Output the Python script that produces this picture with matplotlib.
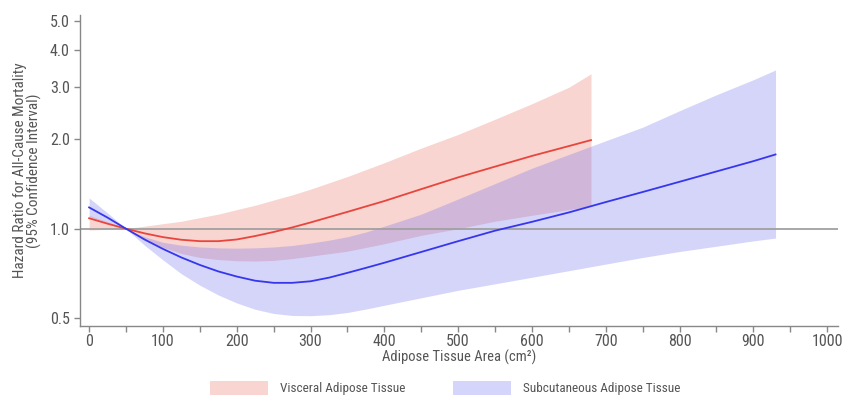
import matplotlib.pyplot as plt
from matplotlib.patches import Patch
from matplotlib.ticker import FixedLocator, NullLocator, MultipleLocator

plt.rcParams['font.family'] = ['Roboto Condensed', 'Liberation Sans Narrow',
                               'Liberation Sans', 'DejaVu Sans']

# adipose tissue area (cm2) and hazard ratios
visceral_x = [0, 25, 50, 75, 100, 125, 150, 175, 200, 225, 250, 275, 300,
              350, 400, 450, 500, 550, 600, 650, 680]
visceral_hr = [1.085, 1.04, 1.0, 0.965, 0.937, 0.918, 0.908, 0.908, 0.92,
               0.945, 0.975, 1.01, 1.05, 1.14, 1.24, 1.36, 1.49, 1.62, 1.76,
               1.9, 1.99]
visceral_hi = [1.11, 1.055, 1.0, 1.02, 1.04, 1.06, 1.09, 1.12, 1.16, 1.2,
               1.25, 1.3, 1.36, 1.5, 1.67, 1.87, 2.08, 2.34, 2.64, 3.0, 3.33]
visceral_lo = [0.99, 0.995, 1.0, 0.92, 0.865, 0.825, 0.8, 0.787, 0.78, 0.778,
               0.782, 0.793, 0.808, 0.84, 0.89, 0.95, 1.0, 1.06, 1.11, 1.16,
               1.19]

subcut_x = [0, 25, 50, 75, 100, 125, 150, 175, 200, 225, 250, 275, 300, 325,
            350, 375, 400, 450, 500, 550, 600, 650, 700, 750, 800, 850, 900,
            930]
subcut_hr = [1.18, 1.09, 1.0, 0.92, 0.855, 0.8, 0.755, 0.718, 0.69, 0.668,
             0.657, 0.657, 0.665, 0.684, 0.71, 0.738, 0.768, 0.835, 0.908,
             0.985, 1.055, 1.135, 1.23, 1.33, 1.44, 1.56, 1.69, 1.78]
subcut_hi = [1.27, 1.13, 1.0, 0.94, 0.9, 0.88, 0.868, 0.862, 0.86, 0.862,
             0.868, 0.878, 0.895, 0.915, 0.94, 0.975, 1.02, 1.12, 1.26, 1.42,
             1.6, 1.78, 1.98, 2.2, 2.5, 2.83, 3.18, 3.43]
subcut_lo = [1.1, 1.05, 1.0, 0.88, 0.785, 0.705, 0.645, 0.598, 0.562, 0.535,
             0.518, 0.51, 0.509, 0.513, 0.522, 0.536, 0.552, 0.585, 0.62,
             0.652, 0.686, 0.722, 0.76, 0.8, 0.838, 0.873, 0.91, 0.93]

y_ticks = [0.5, 1.0, 2.0, 3.0, 4.0, 5.0]

fig = plt.figure(figsize=(8.45, 3.99), dpi=100)
ax = fig.add_axes([0.095, 0.183, 0.897, 0.779])

ax.fill_between(visceral_x, visceral_lo, visceral_hi, color='#e8685c',
                alpha=0.28, linewidth=0)
ax.fill_between(subcut_x, subcut_lo, subcut_hi, color='#6a6af0',
                alpha=0.28, linewidth=0)
ax.axhline(1.0, color='#a0a0a0', lw=1.3, zorder=1)
ax.plot(visceral_x, visceral_hr, color='#e8453c', lw=1.3)
ax.plot(subcut_x, subcut_hr, color='#3636ee', lw=1.3)

ax.set_yscale('log')
ax.set_ylim(0.47, 5.25)
ax.set_xlim(-12, 1015)
ax.yaxis.set_major_locator(FixedLocator(y_ticks))
ax.yaxis.set_minor_locator(NullLocator())
ax.set_yticklabels([f'{t:.1f}' for t in y_ticks])
ax.xaxis.set_major_locator(MultipleLocator(100))
ax.xaxis.set_minor_locator(MultipleLocator(50))

for s in ['top', 'right']:
    ax.spines[s].set_visible(False)
for s in ['left', 'bottom']:
    ax.spines[s].set_color('#888888')
    ax.spines[s].set_linewidth(1.0)
ax.tick_params(axis='both', which='both', colors='#888888', labelcolor='#555555',
               labelsize=11.5, length=4, width=1)
ax.tick_params(axis='x', pad=2)

ax.set_xlabel('Adipose Tissue Area (cm²)', fontsize=10.5, color='#555555',
              labelpad=0)
ax.set_ylabel('Hazard Ratio for All-Cause Mortality\n(95% Confidence Interval)',
              fontsize=11, color='#555555', labelpad=6, linespacing=0.95)

handles = [Patch(facecolor='#f9d5d1', edgecolor='none', label='Visceral Adipose Tissue'),
           Patch(facecolor='#d5d5fb', edgecolor='none', label='Subcutaneous Adipose Tissue')]
leg = fig.legend(handles=handles, loc='center', bbox_to_anchor=(0.527, 0.028),
                 ncol=2, frameon=False, fontsize=9.5, handlelength=4.4,
                 handleheight=1.3, columnspacing=3.6, handletextpad=0.9)
for t in leg.get_texts():
    t.set_color('#555555')

fig.savefig('out.png', dpi=100)
